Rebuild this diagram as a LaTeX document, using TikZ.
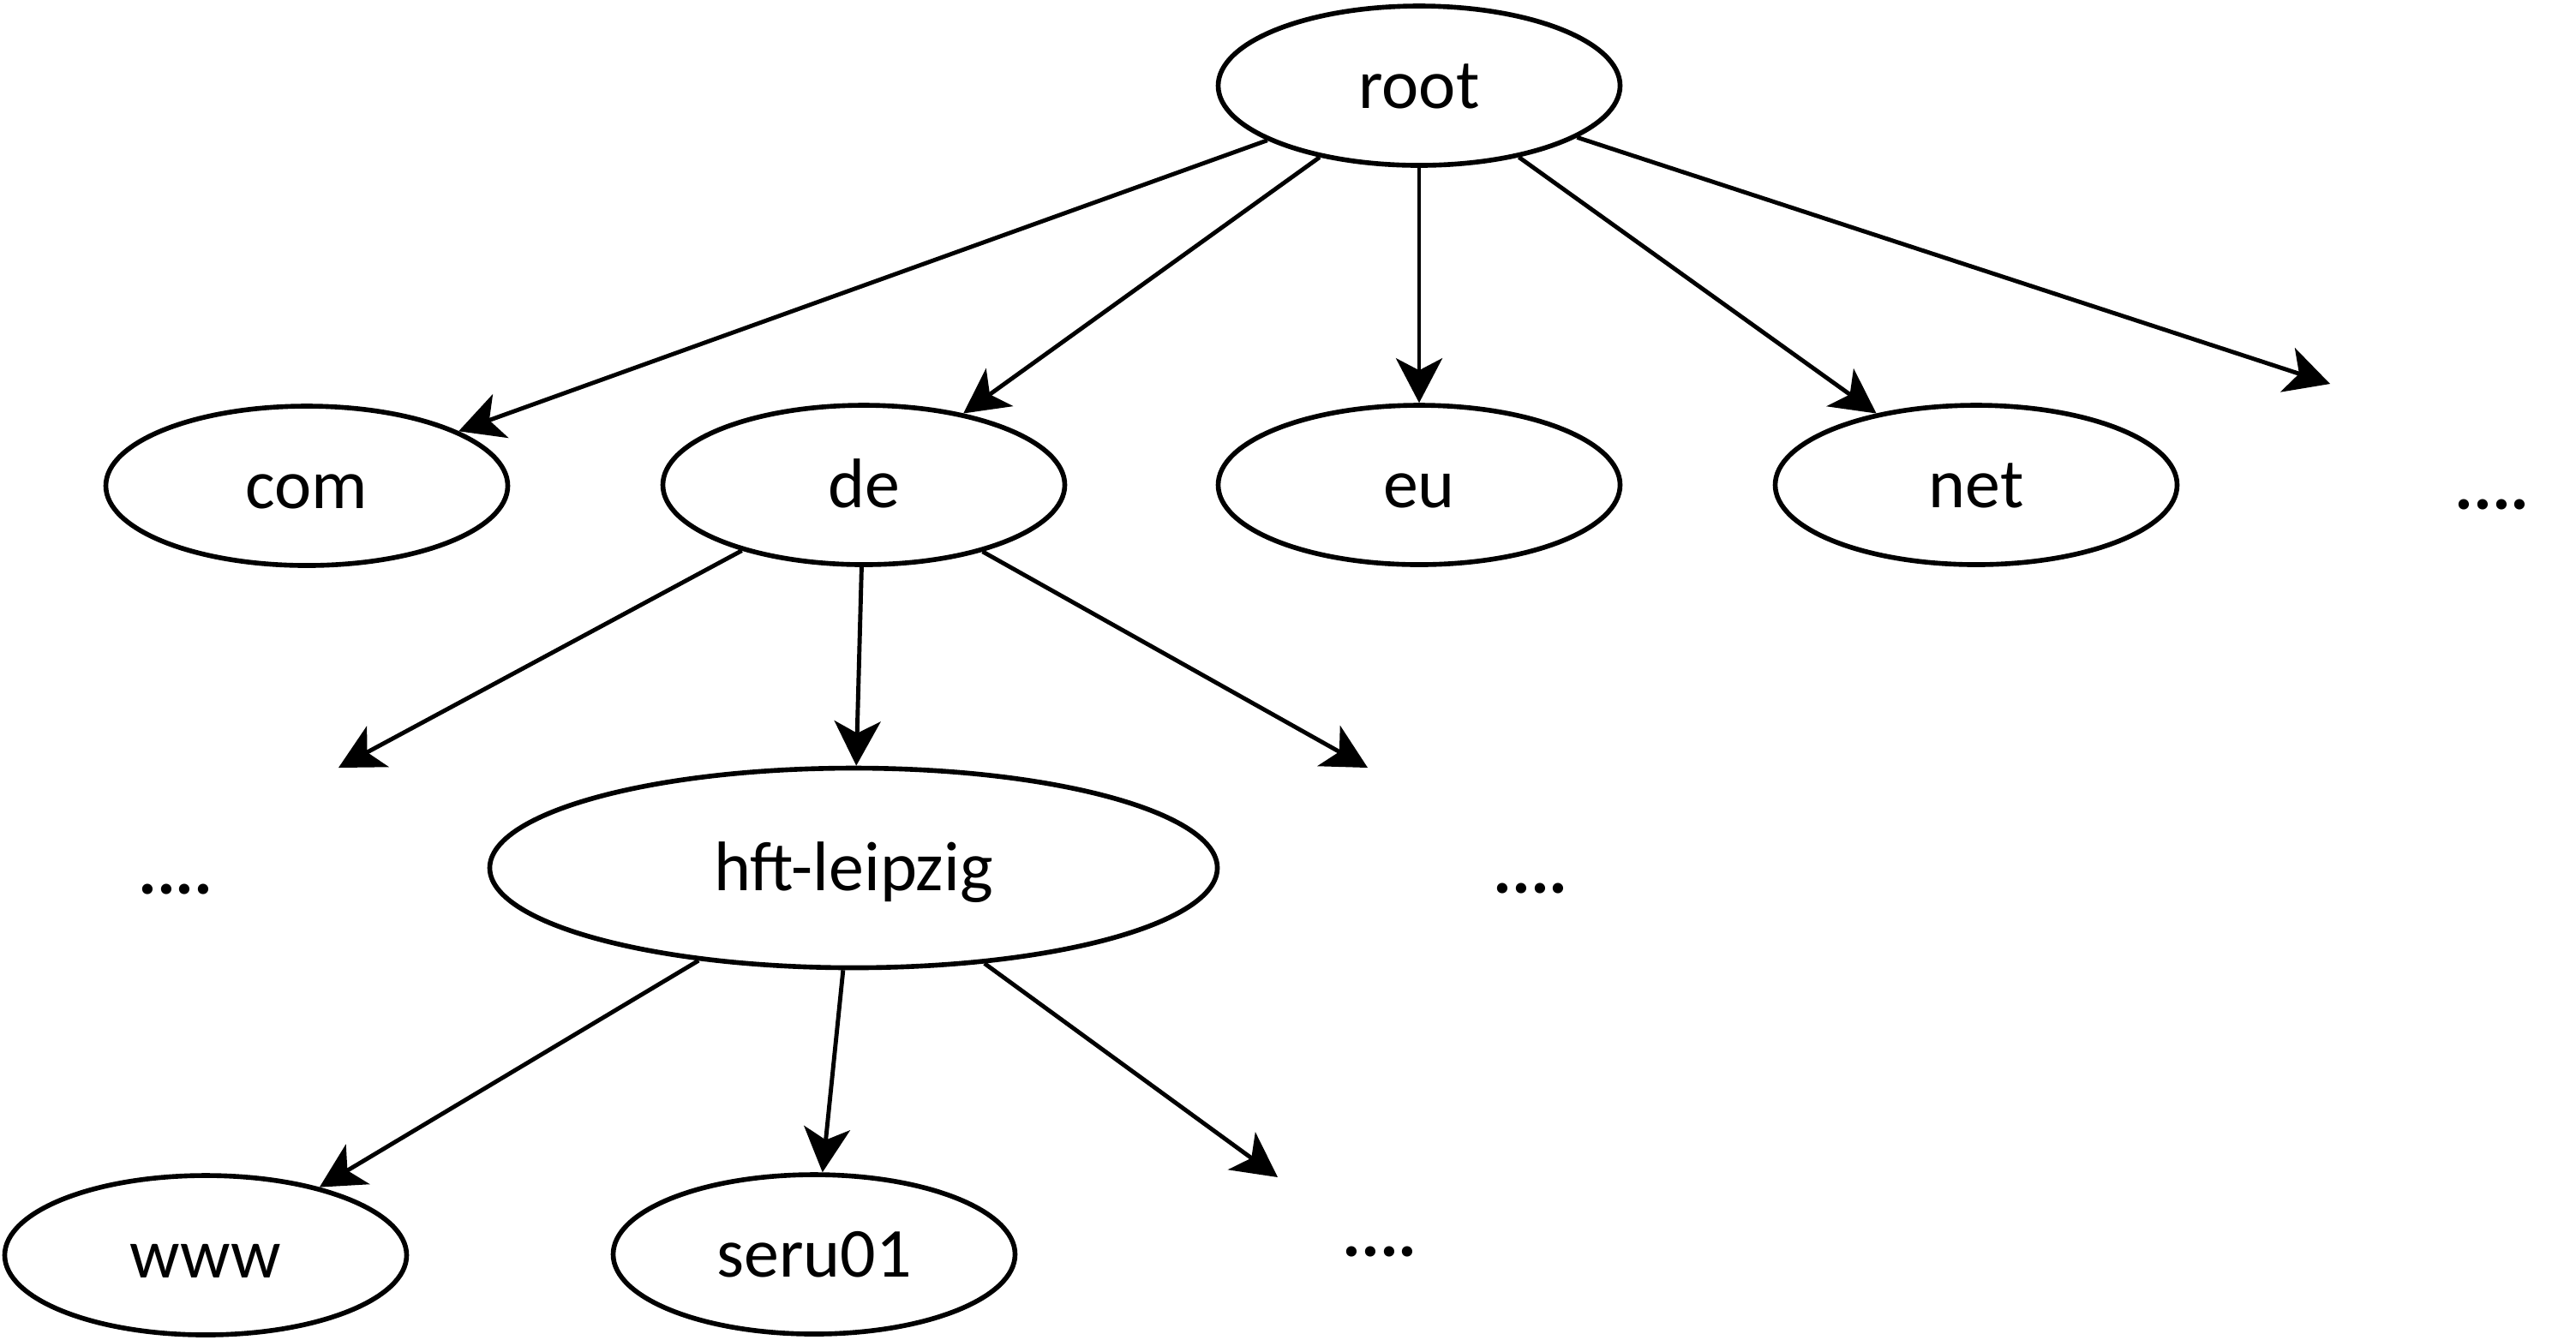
\documentclass[tikz,border=0pt]{standalone}
\usepackage{fontspec}
\setmainfont{Carlito}
\usetikzlibrary{shapes.geometric,arrows.meta}

\begin{document}
\begin{tikzpicture}
        \tikzset{zone/.style = {shape=ellipse,draw,line width=1.6pt,minimum width=4.69cm,minimum height=1.86cm,
                 font=\fontsize{23.3pt}{28pt}\selectfont,text height=0.66cm,text depth=0.14cm}}
        \tikzset{rest/.style = {font=\fontsize{23.3pt}{28pt}\selectfont\bfseries,text height=0.66cm,text depth=0.14cm}}
        \tikzset{link/.style = {-{Stealth[length=5.2mm,width=5.4mm,inset=1.4mm]},line width=1.4pt}}
        \useasboundingbox (0,0) rectangle (30.06,-15.63);
        % vertices
        \node[zone] (root) at (16.56,-1.00)  {root};
        \node[zone] (com)  at (3.58,-5.67)   {com};
        \node[zone] (de)   at (10.08,-5.66)  {de};
        \node[zone] (eu)   at (16.56,-5.66)  {eu};
        \node[zone] (net)  at (23.06,-5.66)  {net};
        \node[zone,minimum width=8.49cm,minimum height=2.33cm] (hft) at (9.96,-10.13) {hft-leipzig};
        \node[zone] (www)  at (2.40,-14.65)  {www};
        \node[zone] (seru) at (9.50,-14.64)  {seru01};
        \node[rest] (dotsR) at (29.08,-5.68)  {....};
        \node[rest] (dotsL) at (2.05,-10.17)  {....};
        \node[rest] (dotsM) at (17.86,-10.16) {....};
        \node[rest] (dotsB) at (16.10,-14.40) {....};
        \coordinate (tR) at (27.19,-4.48);
        \coordinate (tL) at (3.95,-8.96);
        \coordinate (tM) at (15.96,-8.96);
        \coordinate (tB) at (14.91,-13.74);
        %edges
        \draw[link] (root) -- (com);
        \draw[link] (root) -- (de);
        \draw[link] (root) -- (eu);
        \draw[link] (root) -- (net);
        \draw[link] (root) -- (tR);
        \draw[link] (de) -- (tL);
        \draw[link] (de) -- (hft);
        \draw[link] (de) -- (tM);
        \draw[link] (hft) -- (www);
        \draw[link] (hft) -- (seru);
        \draw[link] (hft) -- (tB);
        \end{tikzpicture}
\end{document}
